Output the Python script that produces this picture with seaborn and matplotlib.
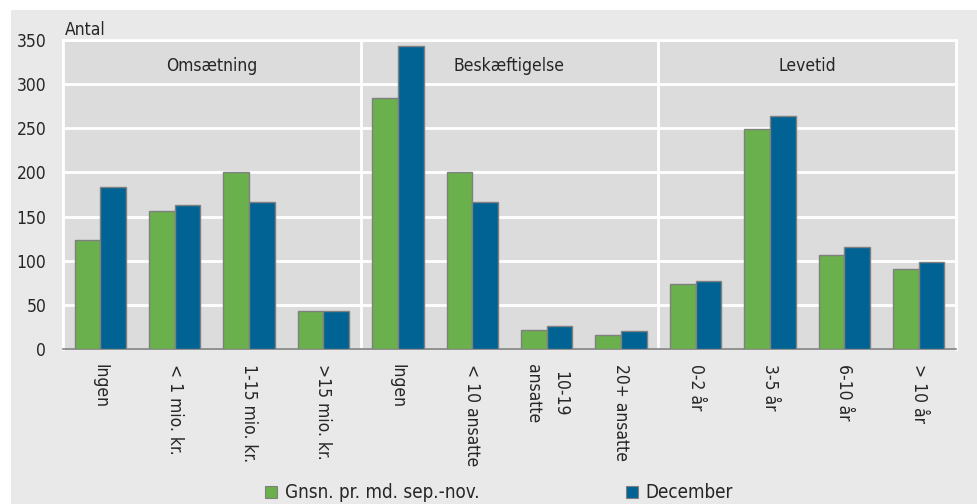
import pandas as pd
import matplotlib
matplotlib.use("Agg")
import matplotlib.pyplot as plt
import seaborn as sns
from matplotlib.patches import Rectangle, Patch

# Data
grupper = ["Omsætning", "Beskæftigelse", "Levetid"]
kategorier = ["Ingen", "< 1 mio. kr.", "1-15 mio. kr.", ">15 mio. kr.",
              "Ingen", "< 10 ansatte", "10-19\nansatte", "20+ ansatte",
              "0-2 år", "3-5 år", "6-10 år", "> 10 år"]
gnsn = [123, 156, 200, 43, 284, 200, 22, 16, 74, 249, 107, 91]
december = [183, 163, 167, 43, 343, 167, 26, 20, 77, 264, 116, 98]
serier = ["Gnsn. pr. md. sep.-nov.", "December"]

gron = "#6ab04c"
bla = "#006394"

# Unikke nøgler, da "Ingen" optræder to gange
noegler = [f"{i}_{k}" for i, k in enumerate(kategorier)]
df = pd.DataFrame({
    "kategori": noegler * 2,
    "antal": gnsn + december,
    "serie": [serier[0]] * len(gnsn) + [serier[1]] * len(december),
})

sns.set_style("white")
plt.rcParams["font.family"] = ["DejaVu Sans"]
plt.rcParams["font.stretch"] = "condensed"

fig = plt.figure(figsize=(9.77, 5.04), dpi=100)
fig.patch.set_facecolor("white")
# lysegrå baggrund bag hele diagrammet
fig.patches.append(Rectangle((11 / 977, 0), 1, (504 - 10) / 504, transform=fig.transFigure,
                             facecolor="#e9e9e9", edgecolor="none", zorder=-10))

ax = fig.add_axes([63 / 977, (504 - 349) / 504, (956 - 63) / 977, (349 - 40) / 504])
ax.set_zorder(1)
ax.set_facecolor("#dcdcdc")

sns.barplot(data=df, x="kategori", y="antal", hue="serie", order=noegler, hue_order=serier,
            palette=[gron, bla], saturation=1, width=0.69, gap=0, edgecolor="#808080",
            linewidth=1, errorbar=None, legend=False, ax=ax, zorder=3)

ax.set_ylim(0, 350)
ax.set_xlim(-0.5, len(kategorier) - 0.5)
ax.set_yticks(range(0, 351, 50))
ax.yaxis.grid(True, color="white", linewidth=2)
ax.set_axisbelow(True)
for x in [3.5, 7.5]:
    ax.axvline(x, color="white", linewidth=2, zorder=1)

# gruppeoverskrifter i toppen
for i, g in enumerate(grupper):
    ax.text(4 * i + 1.5, 321, g, ha="center", va="center", fontsize=12.5, zorder=4)

ax.set_xticks(range(len(kategorier)))
ax.set_xticklabels(kategorier, rotation=270, fontsize=12.5, va="top", ha="center",
                   linespacing=1.7, multialignment="center")
ax.tick_params(axis="x", length=0, pad=11)
ax.tick_params(axis="y", length=0, pad=12, labelsize=12.5)
ax.set_xlabel("")
ax.set_ylabel("")

for side in ["left", "right", "top"]:
    ax.spines[side].set_color("white")
    ax.spines[side].set_linewidth(2)
ax.spines["bottom"].set_color("#808080")
ax.spines["bottom"].set_linewidth(1.2)

fig.text(65 / 977, 1 - 30 / 504, "Antal", ha="left", va="center", fontsize=12.5)

handles = [Patch(facecolor=gron, edgecolor="#808080", linewidth=0.8),
           Patch(facecolor=bla, edgecolor="#808080", linewidth=0.8)]
fig.legend(handles, serier, loc="center", bbox_to_anchor=(499 / 977, 1 - 493 / 504),
           ncol=2, frameon=False, fontsize=13.5, handlelength=0.65, handleheight=0.65,
           handletextpad=0.4, columnspacing=7.8, borderpad=0)

fig.savefig("out.png", dpi=100, facecolor=fig.get_facecolor())
